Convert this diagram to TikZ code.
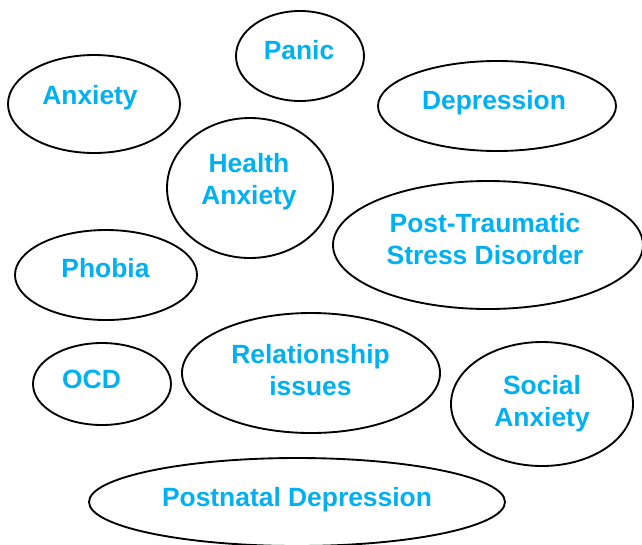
\documentclass[tikz,border=0pt]{standalone}
\usepackage{fontspec}
\setmainfont{Liberation Sans}
\usetikzlibrary{shapes.geometric}
\definecolor{topicblue}{RGB}{0,176,240}

\begin{document}
\begin{tikzpicture}[x=0.75pt,y=-0.75pt,
    bubble/.style args={#1/#2}{ellipse,draw,line width=1.4pt,inner sep=0pt,
      minimum width=#1*1.5pt,minimum height=#2*1.5pt},
    topic/.style={text=topicblue,font=\fontsize{19.8pt}{24pt}\selectfont\bfseries,
      align=center,inner sep=0pt}]
    \useasboundingbox (0,0) rectangle (642,544);
    \node[bubble=86/49] (anx) at (94,104) {};
    \node[bubble=64/45] (pan) at (300,56) {};
    \node[bubble=119/45] (dep) at (497,106) {};
    \node[bubble=83/70] (hea) at (250,188) {};
    \node[bubble=155/64] (pts) at (488,245) {};
    \node[bubble=91/45] (pho) at (106,275) {};
    \node[bubble=69/41] (ocd) at (102,384) {};
    \node[bubble=129/60] (rel) at (311,373) {};
    \node[bubble=91/62] (soc) at (542,404) {};
    \node[bubble=208/44] (pnd) at (297,502) {};
    \node[topic] (anx-t) at (90,97.5) {Anxiety};
    \node[topic] (pan-t) at (299,50) {Panic};
    \node[topic] (dep-t) at (494,103) {Depression};
    \node[topic] (hea-t) at (249,182) {Health\\Anxiety};
    \node[topic] (pts-t) at (485,239) {Post-Traumatic\\Stress Disorder};
    \node[topic] (pho-t) at (105.5,268) {Phobia};
    \node[topic] (ocd-t) at (91.5,379) {OCD};
    \node[topic] (rel-t) at (310.5,370) {Relationship\\issues};
    \node[topic] (soc-t) at (542,403.5) {Social\\Anxiety};
    \node[topic] (pnd-t) at (297,500) {Postnatal Depression};
  \end{tikzpicture}
\end{document}
